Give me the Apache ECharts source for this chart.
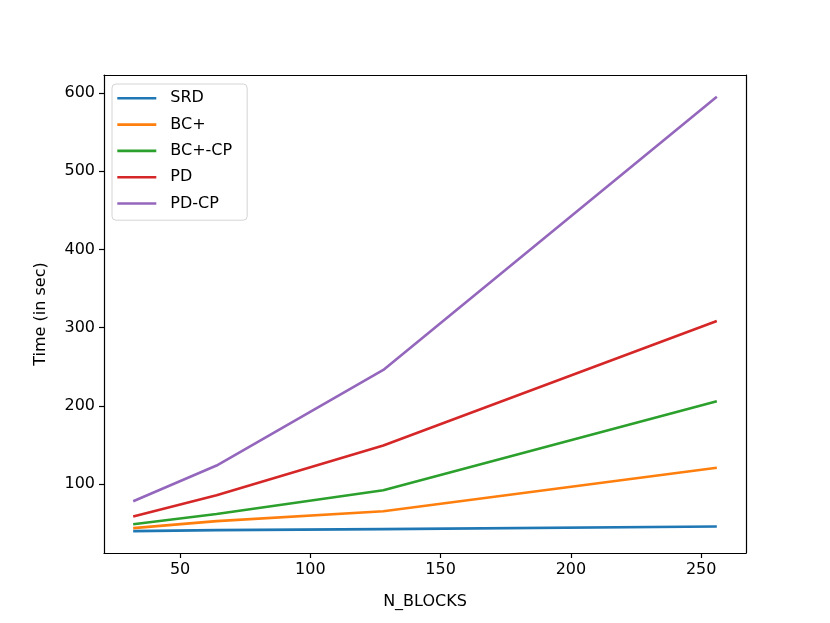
<!DOCTYPE html>
<html>
<head>
<meta charset="utf-8">
<script src="https://cdn.jsdelivr.net/npm/echarts@6/dist/echarts.min.js"></script>
<style>html,body{margin:0;padding:0;background:#fff}#c{width:830px;height:623px}</style>
</head>
<body>
<div id="c"></div>
<script>
var nBlocks = [32, 64, 128, 256];
var srd = [40.2, 41.5, 42.7, 46.0];
var bcPlus = [44, 53, 65.6, 121.2];
var bcPlusCp = [49, 62, 92.4, 206];
var pd = [59, 86, 149.6, 308.6];
var pdCp = [78.4, 124, 246, 595];
var xTicks = [50, 100, 150, 200, 250];
var yTicks = [100, 200, 300, 400, 500, 600];
var seriesNames = ['SRD', 'BC+', 'BC+-CP', 'PD', 'PD-CP'];
var seriesColors = ['#1f77b4', '#ff7f0e', '#2ca02c', '#d62728', '#9467bd'];
var seriesData = [srd, bcPlus, bcPlusCp, pd, pdCp];

var font = 'DejaVu Sans';
var chart = echarts.init(document.getElementById('c'));
var series = seriesNames.map(function (n, i) {
  return {
    name: n, type: 'line', symbol: 'none', showSymbol: false,
    data: nBlocks.map(function (x, j) { return [x, seriesData[i][j]]; }),
    lineStyle: { color: seriesColors[i], width: 2.6 },
    itemStyle: { color: seriesColors[i] },
    emphasis: { disabled: true }, animation: false
  };
});
var axLine = { show: true, lineStyle: { color: '#000', width: 1.2 } };
chart.setOption({
  backgroundColor: '#fff',
  animation: false,
  grid: { left: 104, right: 84, top: 75, bottom: 70 },
  legend: {
    orient: 'vertical', left: 112, top: 84,
    data: seriesNames,
    icon: 'rect',
    itemWidth: 39, itemHeight: 2.6, itemGap: 8.3,
    padding: [5.3, 15, 7.7, 5.3],
    borderColor: '#d4d4d4', borderWidth: 1, borderRadius: 4,
    backgroundColor: 'rgba(255,255,255,0.8)',
    textStyle: { fontFamily: font, fontSize: 16, color: '#000', lineHeight: 18, padding: [0, 0, 0, 9] }
  },
  xAxis: [{
    type: 'value', min: 20.8, max: 267.2,
    name: 'N_BLOCKS', nameLocation: 'middle', nameGap: 41,
    nameTextStyle: { fontFamily: font, fontSize: 16, color: '#000' },
    axisLine: axLine,
    axisTick: { show: true, inside: false, length: 5, customValues: xTicks, lineStyle: { color: '#000', width: 1.2 } },
    axisLabel: { customValues: xTicks, fontFamily: font, fontSize: 16, color: '#000', margin: 9 },
    splitLine: { show: false }
  }, {
    type: 'value', min: 20.8, max: 267.2, position: 'top',
    axisLine: axLine, axisTick: { show: false }, axisLabel: { show: false }, splitLine: { show: false }
  }],
  yAxis: [{
    type: 'value', min: 12.25, max: 622.75,
    name: 'Time (in sec)', nameLocation: 'middle', nameGap: 55,
    nameTextStyle: { fontFamily: font, fontSize: 16, color: '#000' },
    axisLine: axLine,
    axisTick: { show: true, inside: false, length: 5, customValues: yTicks, lineStyle: { color: '#000', width: 1.2 } },
    axisLabel: { customValues: yTicks, fontFamily: font, fontSize: 16, color: '#000', margin: 9 },
    splitLine: { show: false }
  }, {
    type: 'value', min: 12.25, max: 622.75, position: 'right',
    axisLine: axLine, axisTick: { show: false }, axisLabel: { show: false }, splitLine: { show: false }
  }],
  series: series
});
</script>
</body>
</html>
